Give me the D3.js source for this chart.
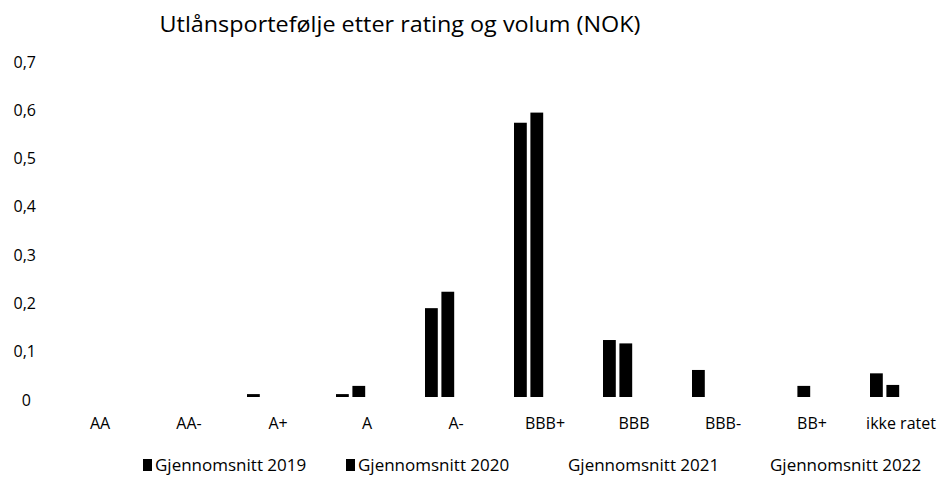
<!DOCTYPE html>
<html>
<head>
<meta charset="utf-8">
<script src="https://cdn.jsdelivr.net/npm/d3@7"></script>
<style>
	body { margin: 0; background: #fff; }
	svg { display: block; font-family: "Open Sans", "Liberation Sans", sans-serif; }
</style>
</head>
<body>
<svg id="chart" width="942" height="478"></svg>
<script>
var categories = ["AA", "AA-", "A+", "A", "A-", "BBB+", "BBB", "BBB-", "BB+", "ikke ratet"]
var seriesNames = ["Gjennomsnitt 2019", "Gjennomsnitt 2020", "Gjennomsnitt 2021", "Gjennomsnitt 2022"]
var seriesColors = ["#000000", "#000000", "#ffffff", "#ffffff"]
var values2019 = [0, 0, 0.006, 0.006, 0.184, 0.568, 0.118, 0.056, 0, 0.049]
var values2020 = [0, 0, 0, 0.023, 0.218, 0.589, 0.111, 0, 0.023, 0.025]
var values2021 = [0, 0, 0, 0, 0, 0, 0, 0, 0, 0]
var values2022 = [0, 0, 0, 0, 0, 0, 0, 0, 0, 0]
var yTicks = [0, 0.1, 0.2, 0.3, 0.4, 0.5, 0.6, 0.7]

var allValues = [values2019, values2020, values2021, values2022]

var svg = d3.select("#chart")

// scales
var x0 = d3.scaleBand()
	.domain(categories)
	.range([56.5, 946.5])
	.paddingInner(25 / 89)
	.paddingOuter(12.5 / 89)

var x1 = d3.scaleBand()
	.domain(seriesNames)
	.range([0, 62])
	.paddingInner(0.22)

var y = d3.scaleLinear()
	.domain([0, 0.7])
	.range([397, 59])

var fmt = function(d) { return d === 0 ? "0" : d3.format(".1f")(d).replace(".", ",") }

// title
svg.append("text")
	.attr("x", 400)
	.attr("y", 32)
	.attr("text-anchor", "middle")
	.attr("font-size", "21px")
	.attr("textLength", 481)
	.attr("lengthAdjust", "spacingAndGlyphs")
	.attr("fill", "#000")
	.text("Utlånsportefølje etter rating og volum (NOK)")

// y axis (labels only)
var yAxis = svg.append("g")
	.attr("transform", "translate(36,0)")
	.call(d3.axisLeft(y).tickValues(yTicks).tickFormat(fmt).tickSize(0).tickPadding(0))
yAxis.select(".domain").remove()
yAxis.selectAll("text")
	.attr("font-family", "Open Sans, Liberation Sans, sans-serif")
	.attr("font-size", "16px")
	.attr("fill", "#000")
	.attr("dy", "0.5em")
yAxis.selectAll(".tick").filter(function(d) { return d === 0 })
	.select("text").attr("dx", -5)

// bars
var groups = svg.append("g")
	.selectAll("g")
	.data(categories)
	.join("g")
	.attr("transform", function(d) { return "translate(" + x0(d) + ",0)" })

groups.selectAll("rect")
	.data(function(d, i) {
		return seriesNames.map(function(s, j) { return { series: s, value: allValues[j][i], color: seriesColors[j] } })
	})
	.join("rect")
	.attr("x", function(d) { return x1(d.series) })
	.attr("width", x1.bandwidth())
	.attr("y", function(d) { return y(d.value) })
	.attr("height", function(d) { return y(0) - y(d.value) })
	.attr("fill", function(d) { return d.color })

// x axis (labels only)
var xAxis = svg.append("g")
	.attr("transform", "translate(0,418)")
	.call(d3.axisBottom(x0).tickSize(0).tickPadding(0))
xAxis.select(".domain").remove()
xAxis.selectAll(".tick").attr("transform", function(d) { return "translate(" + (x0(d) + 31) + ",0)" })
xAxis.selectAll("text")
	.attr("font-family", "Open Sans, Liberation Sans, sans-serif")
	.attr("font-size", "16px")
	.attr("fill", "#000")

// legend
var legendX = [143, 346, 556, 758]
var legend = svg.append("g")
	.selectAll("g")
	.data(seriesNames)
	.join("g")
	.attr("transform", function(d, i) { return "translate(" + legendX[i] + ",465)" })

legend.append("rect")
	.attr("x", 0)
	.attr("y", -6)
	.attr("width", 9)
	.attr("height", 12)
	.attr("fill", function(d, i) { return seriesColors[i] })

legend.append("text")
	.attr("x", 12)
	.attr("dy", "0.35em")
	.attr("font-size", "17px")
	.attr("fill", "#000")
	.text(function(d) { return d })
</script>
</body>
</html>
